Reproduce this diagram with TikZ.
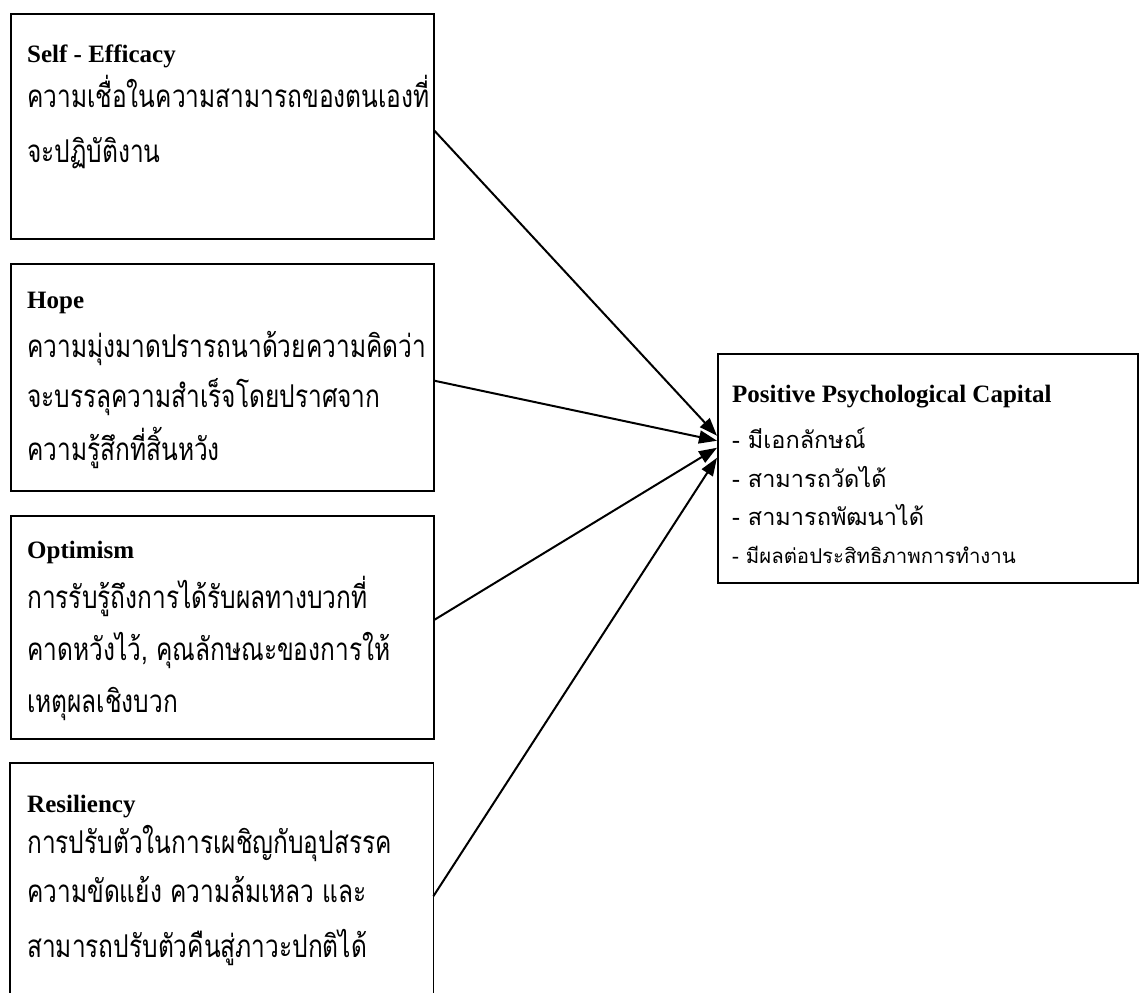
\documentclass[tikz,border=0pt]{standalone}
\usepackage{fontspec}
\setmainfont{Liberation Serif}
\newfontfamily\thai[Script=Thai,FakeStretch=0.78]{Loma}
\newfontfamily\thaiw[Script=Thai]{Loma}
\usetikzlibrary{arrows.meta}
\begin{document}
\begin{tikzpicture}[x=1pt,y=-1pt,
  box/.style={draw, line width=1.5pt, rectangle, inner sep=0pt, anchor=north west},
  openbox/.style={rectangle, inner sep=0pt, anchor=north west},
  head/.style={anchor=base west, inner sep=0pt, font=\fontsize{25}{30}\selectfont\bfseries},
  th/.style={anchor=base west, inner sep=0pt, font=\thai\fontsize{31.4}{36}\selectfont},
  thb/.style={anchor=base west, inner sep=0pt, font=\thaiw\fontsize{23.5}{28}\selectfont},
  ths/.style={anchor=base west, inner sep=0pt, font=\thaiw\fontsize{20.4}{24}\selectfont},
  arr/.style={line width=2pt, -{Triangle[length=18pt,width=13pt]}}]
\useasboundingbox (0,0) rectangle (1144,993);
% boxes
\node[box, minimum width=423pt, minimum height=225pt] (b1) at (10,13) {};
\node[box, minimum width=423pt, minimum height=227pt] (b2) at (10,263) {};
\node[box, minimum width=423pt, minimum height=223pt] (b3) at (10,515) {};
\node[openbox, minimum width=423pt, minimum height=230pt] (b4) at (10,763) {};
\draw[line width=1.5pt] (b4.south west) -- (b4.north west) -- (b4.north east) -- (b4.south east);
\node[box, minimum width=420pt, minimum height=229pt] (b5) at (717,353) {};
% texts box 1
\node[head] (h1) at (27,62) {Self - Efficacy};
\node[th] (t11) at (27,107) {ความเชื่อในความสามารถของตนเองที่};
\node[th] (t12) at (27,162) {จะปฏิบัติงาน};
% box 2
\node[head] (h2) at (27,308) {Hope};
\node[th] (t21) at (27,357) {ความมุ่งมาดปรารถนาด้วยความคิดว่า};
\node[th] (t22) at (27,407) {จะบรรลุความสำเร็จโดยปราศจาก};
\node[th] (t23) at (27,460) {ความรู้สึกที่สิ้นหวัง};
% box 3
\node[head] (h3) at (27,558) {Optimism};
\node[th] (t31) at (27,608) {การรับรู้ถึงการได้รับผลทางบวกที่};
\node[th] (t32) at (27,660) {คาดหวังไว้, คุณลักษณะของการให้};
\node[th] (t33) at (27,712) {เหตุผลเชิงบวก};
% box 4
\node[head] (h4) at (27,812) {Resiliency};
\node[th] (t41) at (27,853) {การปรับตัวในการเผชิญกับอุปสรรค};
\node[th] (t42) at (27,902) {ความขัดแย้ง ความล้มเหลว และ};
\node[th] (t43) at (27,957) {สามารถปรับตัวคืนสู่ภาวะปกติได้};
% box 5
\node[head] (h5) at (732,402) {Positive Psychological Capital};
\node[thb] (t51) at (732,448) {- มีเอกลักษณ์};
\node[thb] (t52) at (732,487) {- สามารถวัดได้};
\node[thb] (t53) at (732,525) {- สามารถพัฒนาได้};
\node[ths] (t54) at (732,563) {- มีผลต่อประสิทธิภาพการทำงาน};
% arrows
\draw[arr] ([yshift=-4.5pt]b1.east) -- ([yshift=32.5pt]b5.west);
\draw[arr] ([yshift=-3.5pt]b2.east) -- ([yshift=27.5pt]b5.west);
\draw[arr] ([yshift=7.5pt]b3.east) -- ([yshift=20.5pt]b5.west);
\draw[arr] ([yshift=-18pt]b4.east) -- ([yshift=10.5pt]b5.west);
\end{tikzpicture}
\end{document}
